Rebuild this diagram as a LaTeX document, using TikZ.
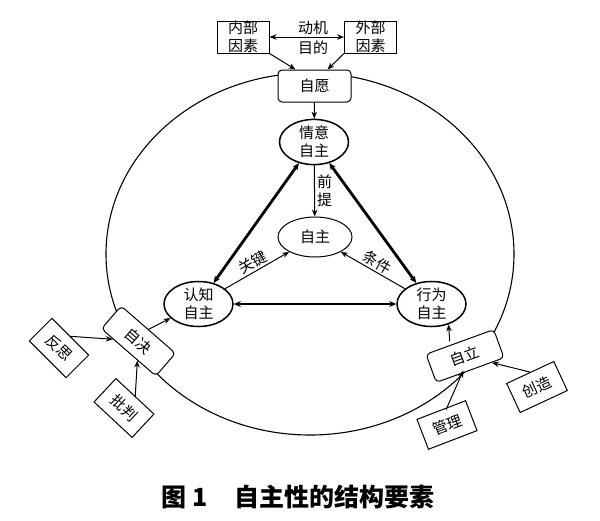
\documentclass[tikz,border=0pt]{standalone}
\usepackage{fontspec}
\newfontfamily\cjk{Noto Sans CJK SC}
\usetikzlibrary{arrows.meta,shapes.geometric}
\begin{document}
\begin{tikzpicture}[x=1pt,y=-1pt,
  txt/.style={font=\cjk\fontsize{15}{18}\selectfont, align=center, inner sep=1pt},
  sqbox/.style={txt, draw, line width=1pt, fill=white, minimum width=52pt, minimum height=32pt, inner sep=0pt},
  rbox/.style={txt, draw, line width=1pt, fill=white, rounded corners=4pt, minimum width=72pt, minimum height=30pt, inner sep=0pt},
  ell/.style={txt, draw, ellipse, line width=1.5pt, fill=white, minimum width=69pt, minimum height=43pt, inner sep=0pt},
  thin/.style={line width=1pt, -{Stealth[length=7pt,width=5.5pt]}},
  thick/.style={line width=2.8pt, {Stealth[length=7pt,width=6pt]}-{Stealth[length=7pt,width=6pt]}},
  lbl/.style={txt, inner sep=2pt}]
\useasboundingbox (0,0) rectangle (600,520);
\draw[line width=1.1pt] (310,254) ellipse [x radius=204pt, y radius=181pt];

\node[sqbox] (neibu) at (243,37) {内部\\因素};
\node[sqbox] (waibu) at (370.5,37) {外部\\因素};
\node[txt] (dongji) at (313,28) {动机};
\node[txt] (mudi) at (313,48) {目的};
\node[rbox, minimum width=73pt, minimum height=32pt] (ziyuan) at (314.5,86) {自愿};

\node[ell] (qingyi) at (314,142) {情意\\自主};
\node[ell, line width=1pt, minimum width=74pt, minimum height=40pt] (zizhu) at (315,237) {自主};
\node[ell] (renzhi) at (198.5,304) {认知\\自主};
\node[ell] (xingwei) at (431.5,304) {行为\\自主};

\node[rbox, rotate=-41] (zijue) at (138.5,341) {自决};
\node[rbox, rotate=20] (zili) at (465,356) {自立};
\node[sqbox, rotate=-45] (fansi) at (59,348) {反思};
\node[sqbox, rotate=-43] (pipan) at (124,408) {批判};
\node[sqbox, rotate=21] (guanli) at (447,425) {管理};
\node[sqbox, rotate=25] (chuangzao) at (537,387) {创造};

\draw[thin, {Stealth[length=7pt,width=5.5pt]}-{Stealth[length=7pt,width=5.5pt]}] (neibu) -- (waibu);
\draw[thin] (neibu.south east) -- ([xshift=-19pt]ziyuan.north);
\draw[thin] (waibu.south west) -- ([xshift=13pt]ziyuan.north);
\draw[thin] (ziyuan) -- (qingyi);

\draw[thin] (qingyi) -- node[lbl, right] (qianti) {前\\提} (zizhu);
\draw[thin] (renzhi) -- node[lbl, sloped, above] (guanjian) {关键} (zizhu);
\draw[thin] (xingwei) -- node[lbl, sloped, above] (tiaojian) {条件} (zizhu);

\draw[thick] (qingyi) -- (renzhi);
\draw[thick] (qingyi) -- (xingwei);
\draw[thick] (renzhi) -- (xingwei);

\draw[thin] (zijue.north) -- (renzhi);
\draw[thin] (fansi.north) -- (zijue);
\draw[thin] (pipan.north) -- (zijue);
\draw[thin] ([xshift=-10pt]zili.north) -- (xingwei.-50);
\draw[thin] ([xshift=5pt]guanli.north) -- ([xshift=-7pt]zili.south);
\draw[thin] (chuangzao.north) -- (zili);

\node[font=\cjk\bfseries\fontsize{25}{29}\selectfont, inner sep=0pt] (caption) at (298,497) {图 1\hspace{1.1em}自主性的结构要素};
\end{tikzpicture}
\end{document}
